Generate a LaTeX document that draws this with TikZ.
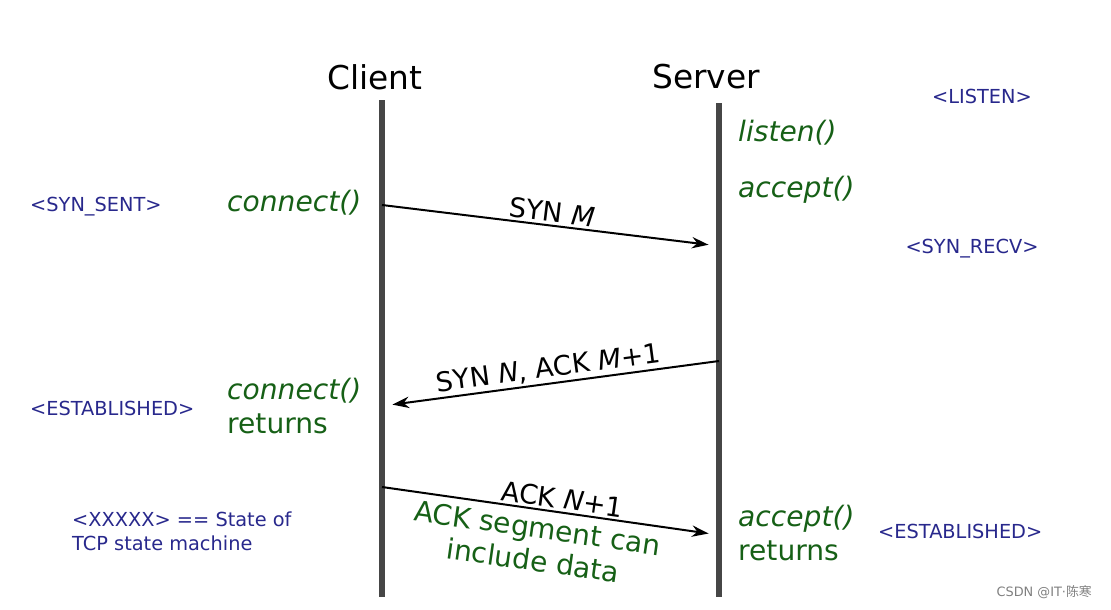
\documentclass[tikz,border=0pt]{standalone}
\usepackage{fontspec}
\setmainfont{DejaVu Sans}
\newfontfamily\cjkfont{Noto Sans CJK SC}
\usetikzlibrary{arrows.meta}
\definecolor{callgreen}{RGB}{22,96,22}
\definecolor{stateblue}{RGB}{40,40,140}
\definecolor{lifegray}{RGB}{70,70,70}

\begin{document}
\begin{tikzpicture}[x=0.03cm, y=-0.03cm,
        host/.style={font=\fontsize{28}{30}\selectfont},
        call/.style={text=callgreen, font=\fontsize{24}{29}\selectfont, align=left, anchor=west, inner sep=0pt},
        state/.style={text=stateblue, font=\fontsize{16.5}{20.5}\selectfont, align=left, inner sep=0pt},
        lifeline/.style={draw=lifegray, line width=5pt},
        msg/.style={line width=1.7pt, shorten >=9pt, -{Stealth[length=5mm, width=3.4mm]}},
        msglabel/.style={font=\fontsize{23}{27}\selectfont, sloped, inner sep=2pt}]
    \useasboundingbox (0,0) rectangle (1111,609);

    % hosts and their lifelines
    \node[host] (client) at (375,77) {Client};
    \node[host] (server) at (706,77) {Server};
    \coordinate (client top) at (382,100);
    \coordinate (client bottom) at (382,597);
    \coordinate (server top) at (719,103);
    \coordinate (server bottom) at (719,597);
    \draw[lifeline] (client top) -- (client bottom);
    \draw[lifeline] (server top) -- (server bottom);

    % calls on each side
    \node[call] (listen) at (738,133) {\itshape listen()};
    \node[call] (accept) at (738,190) {\itshape accept()};
    \node[call] (connect) at (227,203) {\itshape connect()};
    \node[call] (connect returns) at (227,406) {{\itshape connect()}\\returns};
    \node[call] (accept returns) at (738,533) {{\itshape accept()}\\returns};

    % states
    \node[state] (listen state) at (982,96) {<LISTEN>};
    \node[state, anchor=west] (syn sent) at (30,207) {<SYN\_SENT>};
    \node[state] (syn recv) at (972,249) {<SYN\_RECV>};
    \node[state, anchor=west] (client established) at (30,408) {<ESTABLISHED>};
    \node[state, anchor=west] (server established) at (878,531) {<ESTABLISHED>};
    \node[state, anchor=west] (legend) at (72,531) {<XXXXX> == State of\\TCP state machine};

    % segments
    \coordinate (syn out) at (382,205);
    \coordinate (syn in) at (719,246);
    \coordinate (synack out) at (719,361);
    \coordinate (synack in) at (382,406);
    \coordinate (ack out) at (382,487);
    \coordinate (ack in) at (719,535);
    \draw[msg] (syn out) -- (syn in)
        node[midway, above, msglabel] (syn label) {SYN {\itshape M}};
    \draw[msg] (synack out) -- (synack in)
        node[midway, above, msglabel] (synack label) {SYN {\itshape N}, ACK {\itshape M}+1};
    \draw[msg] (ack out) -- (ack in)
        node[pos=0.53, above, msglabel] (ack label) {ACK {\itshape N}+1}
        node[pos=0.47, below=5pt, sloped, align=center, text=callgreen, font=\fontsize{24}{28}\selectfont, inner sep=1pt] (ack note) {ACK segment can\\include data};

    \node[anchor=east, text=gray, font=\fontsize{11}{13}\selectfont] (mark) at (1096,592) {CSDN @IT·{\cjkfont 陈寒}};
\end{tikzpicture}
\end{document}
